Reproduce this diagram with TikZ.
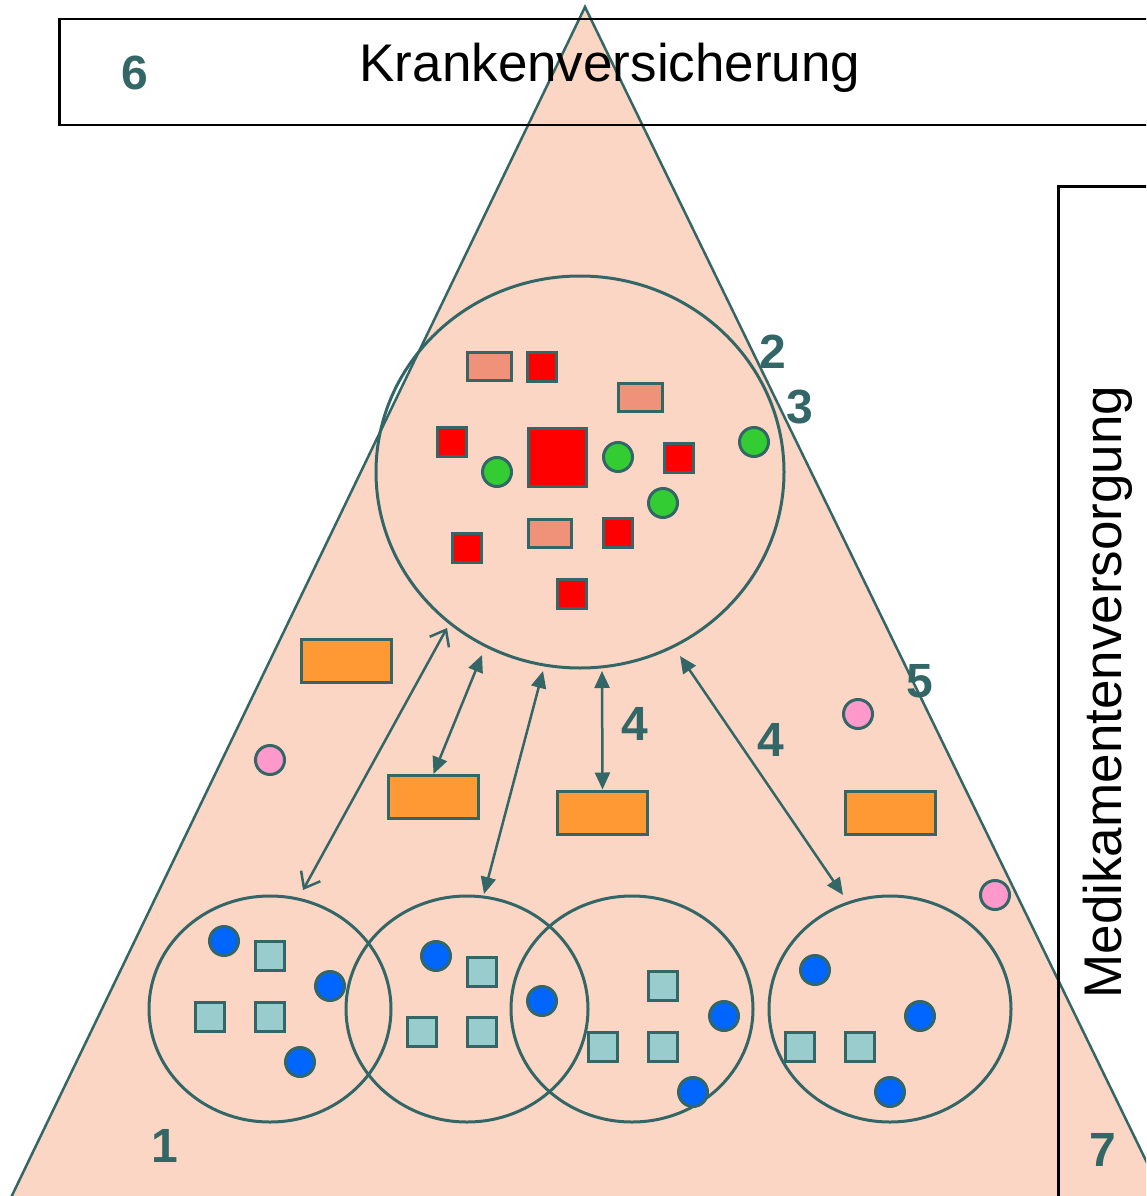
\documentclass[tikz,border=0pt]{standalone}
\usepackage{fontspec}
\setmainfont{Liberation Sans}
\usetikzlibrary{arrows.meta,shapes.geometric}
\definecolor{tealc}{HTML}{336666}
\definecolor{trifill}{RGB}{251,214,196}
\definecolor{redc}{HTML}{FF0000}
\definecolor{salmonc}{RGB}{240,146,122}
\definecolor{greenc}{HTML}{33CC33}
\definecolor{bluec}{HTML}{0066FF}
\definecolor{aquac}{HTML}{99CCCC}
\definecolor{orangec}{HTML}{FF9933}
\definecolor{pinkc}{HTML}{FF99CC}
\tikzset{
  shp/.style={draw=tealc, line width=3pt, inner sep=0pt},
  redsq/.style={shp, rectangle, fill=redc, minimum size=29pt},
  salrect/.style={shp, rectangle, fill=salmonc, minimum width=44pt, minimum height=28pt},
  grdot/.style={shp, circle, fill=greenc, minimum size=29pt},
  bldot/.style={shp, circle, fill=bluec, minimum size=29pt},
  aqsq/.style={shp, rectangle, fill=aquac, minimum size=29pt},
  orrect/.style={shp, rectangle, fill=orangec, minimum width=90pt, minimum height=43pt},
  pkdot/.style={shp, circle, fill=pinkc, minimum size=29pt},
  grp/.style={shp, ellipse, minimum width=242pt, minimum height=226pt},
  lbl/.style={text=tealc, inner sep=0pt, font=\bfseries\fontsize{48}{48}\selectfont},
  frame/.style={draw=black, line width=2.5pt, rectangle, inner sep=0pt},
  bigtext/.style={inner sep=0pt, font=\fontsize{53}{53}\selectfont},
  arr/.style={draw=tealc, line width=2.5pt, {Triangle[length=17pt,width=15pt]}-{Triangle[length=17pt,width=15pt]}},
  arropen/.style={draw=tealc, line width=2.5pt, {Straight Barb[length=14pt,width=22pt,line width=2.5pt]}-{Straight Barb[length=14pt,width=22pt,line width=2.5pt]}}
}
\begin{document}
\begin{tikzpicture}[x=1pt,y=-1pt]
\useasboundingbox (0,0) rectangle (1146,1196);
\fill[white] (0,0) rectangle (1146,1196);
% triangle
\begin{scope}
\clip (0,0) rectangle (1146,1196);
\filldraw[fill=trifill, draw=tealc, line width=2.5pt] (585,7) -- (5,1210) -- (1170,1210) -- cycle;
% frames
\node[frame, anchor=north west, minimum width=1102pt, minimum height=106pt] (kvbox) at (58,18) {};
\node[frame, anchor=north west, minimum width=110pt, minimum height=1030pt] (mvbox) at (1057,185) {};
\end{scope}
\node[bigtext, anchor=base] (kvtext) at (610,82) {Krankenversicherung};
\node[bigtext, anchor=base, rotate=90] (mvtext) at (1121,692) {Medikamentenversorgung};

% big group
\node[shp, ellipse, minimum width=408pt, minimum height=392pt] (big) at (580,472) {};
\node[salrect] (s1) at (489,366.5) {};
\node[redsq] (r1) at (541.5,366.5) {};
\node[salrect] (s2) at (640,397) {};
\node[redsq] (r2) at (451.5,442) {};
\node[redsq, minimum size=58pt] (rbig) at (557,457.5) {};
\node[redsq] (r3) at (678.5,457.5) {};
\node[salrect, minimum width=43pt] (s3) at (549.5,533) {};
\node[redsq] (r4) at (617.5,532.5) {};
\node[redsq] (r5) at (466.5,548) {};
\node[redsq] (r6) at (572,593.5) {};
\node[grdot] (g1) at (497,472) {};
\node[grdot] (g2) at (618,457) {};
\node[grdot] (g3) at (754,442) {};
\node[grdot] (g4) at (663,503) {};

% orange and pink
\node[orrect] (o1) at (346,661) {};
\node[orrect] (o2) at (433.5,797) {};
\node[orrect] (o3) at (602.5,812.5) {};
\node[orrect] (o4) at (890,812.5) {};
\node[pkdot] (p1) at (270,760) {};
\node[pkdot] (p2) at (858,714) {};
\node[pkdot] (p3) at (995,895) {};

% bottom groups
\node[grp] (c1) at (270,1009) {};
\node[grp] (c2) at (467,1009) {};
\node[grp] (c3) at (632,1009) {};
\node[grp] (c4) at (890,1009) {};

\node[bldot] (b11) at (224,941) {};
\node[aqsq] (q11) at (270,956) {};
\node[bldot] (b12) at (330,986) {};
\node[aqsq] (q12) at (209.5,1016.5) {};
\node[aqsq] (q13) at (270,1016.5) {};
\node[bldot] (b13) at (300,1062) {};

\node[bldot] (b21) at (436,956) {};
\node[aqsq] (q21) at (481.5,971.5) {};
\node[aqsq] (q22) at (421.5,1031.5) {};
\node[aqsq] (q23) at (481.5,1031.5) {};
\node[bldot] (b22) at (542,1001) {};
\node[aqsq] (q24) at (603,1047) {};

\node[aqsq] (q31) at (663,986) {};
\node[aqsq] (q32) at (663,1047) {};
\node[bldot] (b31) at (724,1016) {};
\node[bldot] (b32) at (693,1092) {};

\node[bldot] (b41) at (815,970) {};
\node[bldot] (b42) at (920,1016) {};
\node[aqsq] (q41) at (800,1047) {};
\node[aqsq] (q42) at (860,1047) {};
\node[bldot] (b43) at (890,1092) {};

% arrow end points
\coordinate (a1u) at (447,628);
\coordinate (a1d) at (303,890);
\coordinate (a2u) at (482,655);
\coordinate (a3u) at (543,671);
\coordinate (a3d) at (484,894);
\coordinate (a4u) at (602,671);
\coordinate (a5u) at (680,656);
\coordinate (a5d) at (843,895);

\draw[arropen] (a1u) -- (a1d);
\draw[arr] (a2u) -- (o2.north);
\draw[arr] (a3u) -- (a3d);
\draw[arr] (a4u) -- (o3.north);
\draw[arr] (a5u) -- (a5d);

% labels
\node[lbl] (l6) at (135,73) {6};
\node[lbl] (l2) at (773,352) {2};
\node[lbl] (l3) at (800,407) {3};
\node[lbl] (l4a) at (635,724) {4};
\node[lbl] (l4b) at (771,740) {4};
\node[lbl] (l5) at (920,681) {5};
\node[lbl] (l1) at (165,1146) {1};
\node[lbl] (l7) at (1103,1150) {7};
\end{tikzpicture}
\end{document}
